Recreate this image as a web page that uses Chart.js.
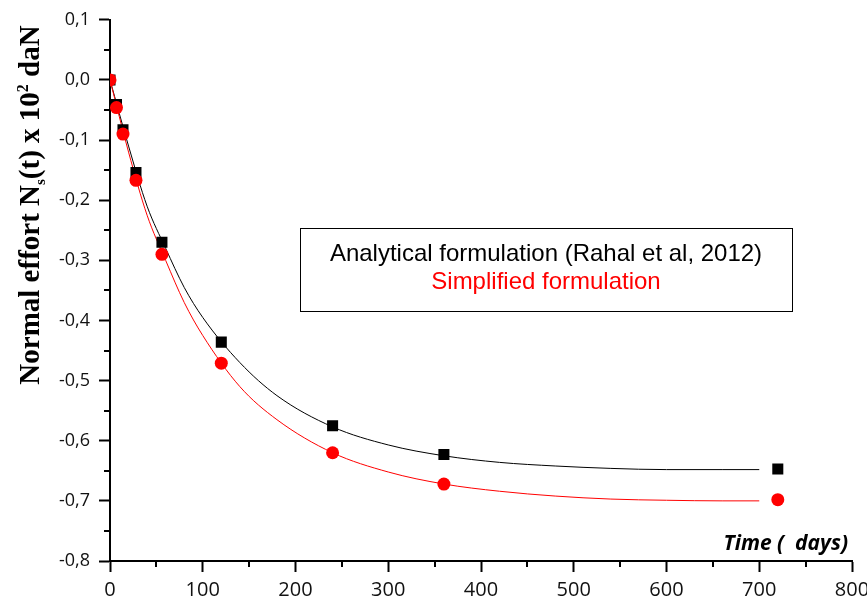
<!DOCTYPE html>
<html>
<head>
<meta charset="utf-8">
<script src="https://cdn.jsdelivr.net/npm/chart.js@4"></script>
<style>
  html, body { margin: 0; padding: 0; background: #fff; }
  #wrap { width: 867px; height: 600px; }
</style>
</head>
<body>
<div id="wrap"><canvas id="chart" width="867" height="600"></canvas></div>
<script>
// measured points (days)
const timeDays = [0, 7, 14, 28, 56, 120, 240, 360, 720];
const analytical = [0, -0.041, -0.083, -0.154, -0.270, -0.436, -0.575, -0.623, -0.647];
const simplified = [0, -0.046, -0.090, -0.167, -0.290, -0.471, -0.620, -0.672, -0.698];

// fitted curves
const fitDays = [0, 20, 40, 60, 80, 100, 140, 180, 240, 300, 360, 420, 480, 540, 600, 660, 700];
const analyticalFit = [0, -0.11, -0.21, -0.28, -0.345, -0.395, -0.47, -0.525, -0.577, -0.607, -0.625, -0.636, -0.642, -0.646, -0.648, -0.648, -0.648];
const simplifiedFit = [0, -0.12, -0.225, -0.30, -0.37, -0.425, -0.51, -0.565, -0.62, -0.652, -0.672, -0.684, -0.692, -0.697, -0.699, -0.700, -0.700];

const xTicks = [0, 100, 200, 300, 400, 500, 600, 700, 800];
const yTicks = [0.1, 0.0, -0.1, -0.2, -0.3, -0.4, -0.5, -0.6, -0.7, -0.8];

const seriesNames = ["Analytical formulation (Rahal et al, 2012)", "Simplified formulation"];

const pts = (xs, ys) => xs.map((x, i) => ({ x: x, y: ys[i] }));

const ctx = document.getElementById("chart").getContext("2d");

// minor ticks, axis titles and the boxed legend
const extras = {
	id: "extras",
	afterDraw(chart) {
		const c = chart.ctx;
		const a = chart.chartArea;
		const xs = chart.scales.x, ys = chart.scales.y;
		c.save();
		c.strokeStyle = "#000";
		c.lineWidth = 2;
		c.beginPath();
		for (let i = 0; i < xTicks.length - 1; i++) {
			const px = Math.round(xs.getPixelForValue((xTicks[i] + xTicks[i + 1]) / 2));
			c.moveTo(px, a.bottom);
			c.lineTo(px, a.bottom + 6);
		}
		for (let i = 0; i < yTicks.length - 1; i++) {
			const py = Math.round(ys.getPixelForValue((yTicks[i] + yTicks[i + 1]) / 2));
			c.moveTo(a.left, py);
			c.lineTo(a.left - 6, py);
		}
		c.stroke();

		// y title with subscript / superscript
		const big = "bold 29px 'Liberation Serif', 'Times New Roman', serif";
		const sub = "bold 15px 'Liberation Serif', 'Times New Roman', serif";
		const sup = "bold 16px 'Liberation Serif', 'Times New Roman', serif";
		const parts = [
			{ t: "Normal effort N", f: big, dy: 0 },
			{ t: "s", f: sub, dy: 6 },
			{ t: "(t) x 10", f: big, dy: 0 },
			{ t: "2", f: sup, dy: -11 },
			{ t: " daN", f: big, dy: 0 },
		];
		let w = 0;
		parts.forEach((p) => { c.font = p.f; p.w = c.measureText(p.t).width; w += p.w; });
		c.translate(39, 205);
		c.rotate(-Math.PI / 2);
		c.fillStyle = "#000";
		c.textBaseline = "alphabetic";
		let cx = -w / 2;
		parts.forEach((p) => {
			c.font = p.f;
			c.fillText(p.t, cx, p.dy);
			cx += p.w;
		});
		c.setTransform(1, 0, 0, 1, 0, 0);

		// x title inside the plot
		c.font = "bold italic 21px 'Open Sans', sans-serif";
		c.textAlign = "right";
		c.fillText("Time (  days)", 848, 550);

		// legend box
		c.lineWidth = 1;
		c.strokeRect(300.5, 228.5, 492, 83);
		c.textAlign = "center";
		c.textBaseline = "middle";
		c.font = "24px 'Liberation Sans', Arial, sans-serif";
		c.fillStyle = "#000";
		c.fillText(seriesNames[0], 546, 254);
		c.fillStyle = "#ff0000";
		c.fillText(seriesNames[1], 546, 282);
		c.restore();
	},
};

const config = {
	type: "scatter",
	data: {
		datasets: [
			{
				label: seriesNames[1],
				data: pts(timeDays, simplified),
				pointStyle: "circle",
				pointRadius: 6.5,
				backgroundColor: "#ff0000",
				borderColor: "#ff0000",
				borderWidth: 0,
				order: 0,
			},
			{
				label: seriesNames[0],
				data: pts(timeDays, analytical),
				pointStyle: "rect",
				pointRadius: 7.8,
				backgroundColor: "#000",
				borderColor: "#000",
				borderWidth: 0,
				order: 1,
			},
			{
				label: seriesNames[1] + " fit",
				data: pts(fitDays, simplifiedFit),
				showLine: true,
				pointRadius: 0,
				borderColor: "#ff0000",
				borderWidth: 1,
				cubicInterpolationMode: "monotone",
				order: 2,
			},
			{
				label: seriesNames[0] + " fit",
				data: pts(fitDays, analyticalFit),
				showLine: true,
				pointRadius: 0,
				borderColor: "#000",
				borderWidth: 1,
				cubicInterpolationMode: "monotone",
				order: 3,
			},
		],
	},
	options: {
		responsive: false,
		animation: false,
		layout: { padding: { top: 18, right: 15, left: 0, bottom: 0 } },
		scales: {
			x: {
				type: "linear",
				min: 0,
				max: 800,
				afterFit: (s) => { s.height = 39; s.paddingLeft = 0; s.paddingRight = 0; },
				afterBuildTicks: (s) => { s.ticks = xTicks.map((v) => ({ value: v })); },
				border: { color: "#000", width: 2 },
				grid: { drawOnChartArea: false, tickLength: 11, tickColor: "#000", tickWidth: 2 },
				ticks: {
					color: "#111",
					padding: 6,
					font: { family: "'Liberation Sans Narrow', 'Open Sans', sans-serif", size: 20 },
				},
			},
			y: {
				min: -0.8,
				max: 0.1,
				afterFit: (s) => { s.width = 110; },
				afterBuildTicks: (s) => { s.ticks = yTicks.map((v) => ({ value: v })); },
				border: { color: "#000", width: 2 },
				grid: { drawOnChartArea: false, tickLength: 11, tickColor: "#000", tickWidth: 2 },
				ticks: {
					color: "#111",
					padding: 9,
					font: { family: "'Open Sans', sans-serif", size: 18 },
					callback: (v) => (Math.abs(v) < 1e-9 ? "0,0" : v.toFixed(1).replace(".", ",")),
				},
			},
		},
		plugins: {
			legend: { display: false },
			tooltip: { enabled: false },
		},
	},
	plugins: [extras],
};

const myChart = new Chart(ctx, config);
</script>
</body>
</html>
